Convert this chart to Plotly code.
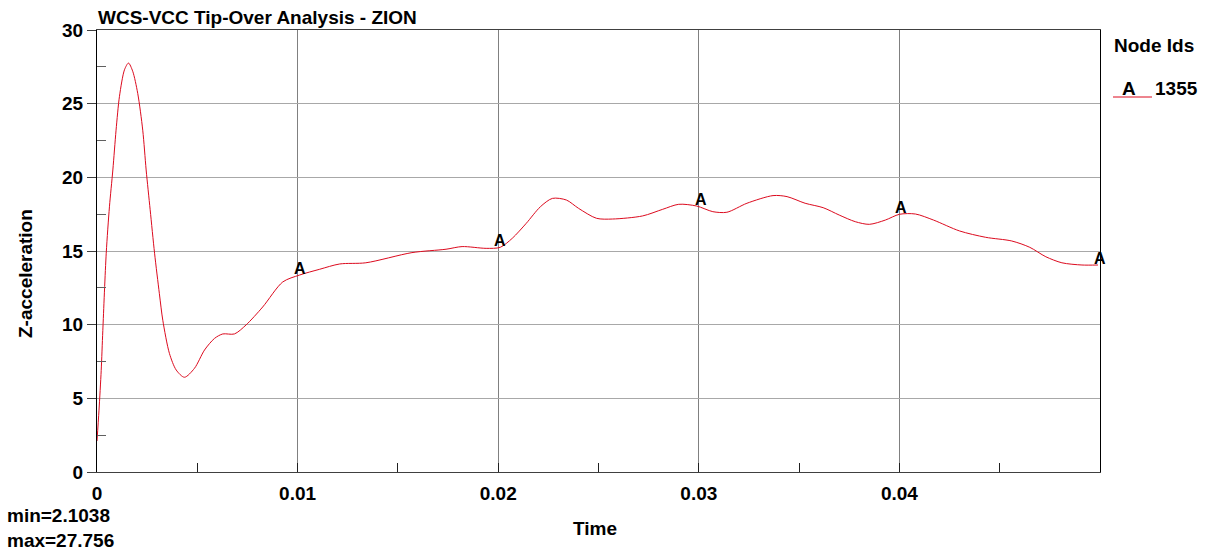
import numpy as np
import plotly.graph_objects as go

# ---- data ----
time_s = [0.0, 0.0001, 0.00021, 0.00029, 0.00046, 0.00062, 0.00079, 0.00095, 0.00112, 0.00137,
          0.00157, 0.00178, 0.00203, 0.00228, 0.00245, 0.00265, 0.00287, 0.00311, 0.00328, 0.00361,
          0.00395, 0.00436, 0.00486, 0.00536, 0.00586, 0.00627, 0.00685, 0.00743, 0.00826, 0.00926,
          0.0101, 0.0111, 0.0121, 0.0134, 0.0157, 0.0174, 0.0182, 0.0194, 0.0201, 0.0207,
          0.0214, 0.0221, 0.0227, 0.0234, 0.0240, 0.0249, 0.0257, 0.0272, 0.0282, 0.0290,
          0.0299, 0.0307, 0.0314, 0.0324, 0.0337, 0.0344, 0.0353, 0.0362, 0.0370, 0.0378,
          0.0385, 0.0393, 0.0400, 0.0408, 0.0417, 0.0430, 0.0443, 0.0456, 0.0465, 0.0473,
          0.0481, 0.0491, 0.0499]
z_accel = [2.1038, 4.2, 6.9, 9.6, 14.85, 18.0, 20.5, 23.2, 25.5, 27.3,
           27.756, 27.2, 25.7, 23.2, 20.5, 17.8, 14.85, 12.1, 10.3, 8.05,
           6.92, 6.43, 7.04, 8.28, 9.07, 9.37, 9.37, 9.98, 11.2, 12.9,
           13.37, 13.76, 14.12, 14.2, 14.89, 15.12, 15.3, 15.18, 15.25, 15.86,
           16.88, 18.0, 18.57, 18.46, 17.9, 17.22, 17.17, 17.38, 17.83, 18.17,
           18.05, 17.67, 17.63, 18.24, 18.76, 18.69, 18.24, 17.94, 17.44, 16.99,
           16.81, 17.1, 17.49, 17.51, 17.1, 16.36, 15.93, 15.68, 15.25, 14.61,
           14.2, 14.05, 14.05]
label_times = [0.01, 0.02, 0.03, 0.04, 0.0499]
x_ticks = [0, 0.01, 0.02, 0.03, 0.04]
x_tick_text = ["0", "0.01", "0.02", "0.03", "0.04"]
y_ticks = [0, 5, 10, 15, 20, 25, 30]
series_name = "1355"
series_letter = "A"

FONT = "Liberation Sans, Arial, sans-serif"
RED = "#dc0a1e"
FS = 19

fig = go.Figure()
fig.add_trace(go.Scatter(x=time_s, y=z_accel, mode="lines",
                         line=dict(color=RED, width=1, shape="spline", smoothing=0.8),
                         showlegend=False, hoverinfo="skip"))

# "A" labels along the curve
label_vals = np.interp(label_times, time_s, z_accel)
for t, v in zip(label_times, label_vals):
    fig.add_annotation(x=t, y=float(v), text=series_letter, showarrow=False,
                       xanchor="center", yanchor="middle", xshift=2, yshift=7,
                       font=dict(family=FONT, size=16, color="black", weight="bold"))

W, H = 1209, 550
L, R, T, B = 97, 109, 30, 78
pw, ph = W - L - R, H - T - B

def px(xp):
    return (xp - L) / pw

def py(yp):
    return (H - B - yp) / ph

ann_font = dict(family=FONT, size=FS, color="black", weight="bold")
fig.add_annotation(xref="paper", yref="paper", x=px(96), y=py(17), text="WCS-VCC Tip-Over Analysis - ZION",
                   showarrow=False, xanchor="left", yanchor="middle", font=ann_font)
fig.add_annotation(xref="paper", yref="paper", x=px(595), y=py(528), text="Time",
                   showarrow=False, xanchor="center", yanchor="middle", font=ann_font)
fig.add_annotation(xref="paper", yref="paper", x=px(25), y=py(274), text="Z-acceleration",
                   textangle=-90, showarrow=False, xanchor="center", yanchor="middle", font=ann_font)
fig.add_annotation(xref="paper", yref="paper", x=px(6), y=py(528),
                   text=f"min={min(z_accel):.4f}<br>max={max(z_accel):.3f}",
                   showarrow=False, xanchor="left", yanchor="middle", align="left",
                   borderpad=0, font=ann_font)
# legend
fig.add_annotation(xref="paper", yref="paper", x=px(1112), y=py(45), text="Node Ids",
                   showarrow=False, xanchor="left", yanchor="middle", font=ann_font)
fig.add_annotation(xref="paper", yref="paper", x=px(1129), y=py(89), text=series_letter,
                   showarrow=False, xanchor="center", yanchor="middle", font=ann_font)
fig.add_annotation(xref="paper", yref="paper", x=px(1153), y=py(89), text=series_name,
                   showarrow=False, xanchor="left", yanchor="middle", font=ann_font)
fig.add_shape(type="line", xref="paper", yref="paper", x0=px(1113), x1=px(1152), y0=py(97), y1=py(97),
              line=dict(color=RED, width=1))

fig.update_layout(
    width=W, height=H,
    margin=dict(l=L, r=R, t=T, b=B),
    paper_bgcolor="white", plot_bgcolor="white",
    font=dict(family=FONT, size=FS, color="black", weight="bold"),
    showlegend=False,
    xaxis=dict(range=[0, 0.05], tickvals=x_ticks, ticktext=x_tick_text,
               showgrid=True, gridcolor="#808080", gridwidth=1,
               showline=True, linecolor="#404040", linewidth=1, mirror=True,
               ticks="inside", ticklen=9, tickcolor="#202020",
               ticklabelstandoff=4,
               minor=dict(tickvals=[0.005, 0.015, 0.025, 0.035, 0.045], ticks="inside",
                          ticklen=9, tickcolor="#202020", showgrid=False),
               zeroline=False,
               tickfont=dict(family=FONT, size=FS, color="black", weight="bold")),
    yaxis=dict(range=[0, 30], tickvals=y_ticks,
               showgrid=True, gridcolor="#a8a8a8", gridwidth=1,
               showline=True, linecolor="black", linewidth=1, mirror=True,
               ticks="outside", ticklen=9, tickcolor="#404040",
               minor=dict(tickvals=[2.5, 7.5, 12.5, 17.5, 22.5, 27.5], ticks="inside",
                          ticklen=9, tickcolor="#606060", showgrid=False),
               zeroline=False,
               tickfont=dict(family=FONT, size=FS, color="black", weight="bold")),
)

fig.write_html("out.html")
